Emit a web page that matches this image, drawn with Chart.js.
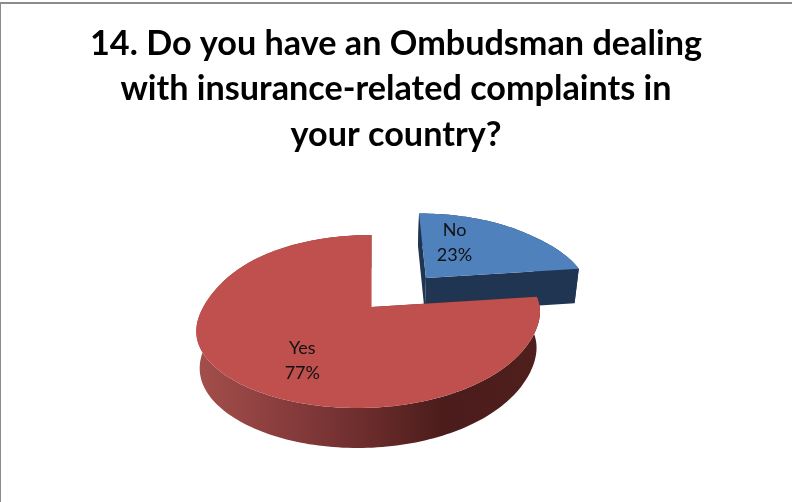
<!DOCTYPE html>
<html>
<head>
<meta charset="utf-8">
<title>Ombudsman survey</title>
<script src="https://cdn.jsdelivr.net/npm/chart.js@4"></script>
<style>
  html, body { margin: 0; background: #fff; }
  #wrap { position: relative; width: 792px; height: 502px; overflow: hidden; }
  #wrap::before { content: ""; position: absolute; left: 0; top: 2px; right: 0; height: 2px; background: #8c8c8c; }
  #wrap::after { content: ""; position: absolute; left: 0; top: 2px; bottom: 0; width: 1px; background: #8c8c8c; }
</style>
</head>
<body>
<div id="wrap"><canvas id="chart" width="792" height="502"></canvas></div>
<script>
const titleLines = [
  "14. Do you have an Ombudsman dealing",
  "with insurance-related complaints in",
  "your country?"
];
const categories = ["No", "Yes"];
const shares = [23, 77];
const sliceColors = ["#4F81BD", "#C0504D"];

// how far each slice is pulled out, as a part of the radius
const pullOut = [0.49, 0];
// label spot relative to the slice centre, in units of the radius (across, towards viewer)
const labelSpots = [[0.24, -0.531], [-0.315, 0.566]];

// tilted disc: disc coordinates (u across, t towards viewer) to screen offsets
const TILT = { across: 1.228, down: 0.6136, near: -0.1676, skew: -0.13, skewFar: 0.115, shiftX: -24.5 };

function project(arc, u, t) {
  const R = arc.outerRadius;
  const w = 1 + TILT.near * t;
  // the near edge drifts left, the far edge stays put
  let skew = TILT.skew * t * (1 + t) / (1 + 2 * t * t);
  if (t < -1) skew += TILT.skewFar * (-1 - t);
  return {
    x: arc.x + TILT.shiftX + R * (TILT.across * u + skew) / w,
    y: arc.y + R * TILT.down * t / w
  };
}

// the underside of the disc, slightly narrower and lower
function sink(arc, p) {
  const midX = arc.x + TILT.shiftX - 4;
  return {
    x: midX + (p.x - midX) * 0.98,
    y: p.y + 40 - 0.0387 * (arc.y + 101 - p.y)
  };
}

function fillPath(ctx, pts, fill) {
  ctx.beginPath();
  pts.forEach((p, i) => i ? ctx.lineTo(p.x, p.y) : ctx.moveTo(p.x, p.y));
  ctx.closePath();
  ctx.fillStyle = fill;
  ctx.fill();
}

function sliceRim(arc, i) {
  const mid = (arc.startAngle + arc.endAngle) / 2;
  const du = Math.cos(mid) * pullOut[i];
  const dt = Math.sin(mid) * pullOut[i];
  const steps = Math.ceil((arc.endAngle - arc.startAngle) * 40);
  const rim = [];
  for (let s = 0; s <= steps; s++) {
    const a = arc.startAngle + (arc.endAngle - arc.startAngle) * s / steps;
    rim.push(project(arc, du + Math.cos(a), dt + Math.sin(a)));
  }
  return { rim, apex: project(arc, du, dt), du, dt };
}

function wallFill(ctx, arc, i) {
  if (i === 0) return "#1F3552";
  const left = arc.x + TILT.shiftX - 172;
  const g = ctx.createLinearGradient(left, 0, left + 340, 0);
  g.addColorStop(0, "#A34E4B");
  g.addColorStop(0.3, "#83393A");
  g.addColorStop(0.5, "#6A2C2B");
  g.addColorStop(0.72, "#4A1C1B");
  g.addColorStop(1, "#501F1D");
  return g;
}

const tiltedPie = {
  id: "tiltedPie",
  beforeDatasetsDraw(chart) {
    const ctx = chart.ctx;
    const arcs = chart.getDatasetMeta(0).data;
    ctx.save();
    arcs.forEach((arc, i) => {
      const { rim, apex } = sliceRim(arc, i);
      const fill = wallFill(ctx, arc, i);
      const first = rim[0];
      const last = rim[rim.length - 1];
      // side wall: the curved rim and both cut faces, painted under the top face
      fillPath(ctx, [...rim, ...rim.map(p => sink(arc, p)).reverse()], fill);
      fillPath(ctx, [apex, first, sink(arc, first), sink(arc, apex)], fill);
      fillPath(ctx, [apex, last, sink(arc, last), sink(arc, apex)], fill);
      fillPath(ctx, [apex, ...rim], sliceColors[i]);
    });
    ctx.restore();
    return false;
  },
  afterDraw(chart) {
    const ctx = chart.ctx;
    const arcs = chart.getDatasetMeta(0).data;
    ctx.save();
    ctx.font = "18px Lato";
    ctx.fillStyle = "#111";
    ctx.textAlign = "center";
    ctx.textBaseline = "middle";
    arcs.forEach((arc, i) => {
      const { du, dt } = sliceRim(arc, i);
      const p = project(arc, du + labelSpots[i][0], dt + labelSpots[i][1]);
      ctx.fillText(categories[i], p.x, p.y - 11.5);
      ctx.fillText(shares[i] + "%", p.x, p.y + 13.5);
    });
    ctx.restore();
  }
};

new Chart(document.getElementById("chart"), {
  type: "pie",
  data: {
    labels: categories,
    datasets: [{ data: shares, backgroundColor: sliceColors, borderWidth: 0 }]
  },
  options: {
    responsive: false,
    animation: false,
    layout: { padding: { left: 0, right: 0, top: 0, bottom: 58 } },
    plugins: {
      legend: { display: false },
      tooltip: { enabled: false },
      title: {
        display: true,
        text: titleLines,
        color: "#000",
        font: { family: "Lato", weight: "bold", size: 34.2, lineHeight: "45.5px" },
        padding: { top: 21, bottom: 12.5 }
      }
    }
  },
  plugins: [tiltedPie]
});
</script>
</body>
</html>
